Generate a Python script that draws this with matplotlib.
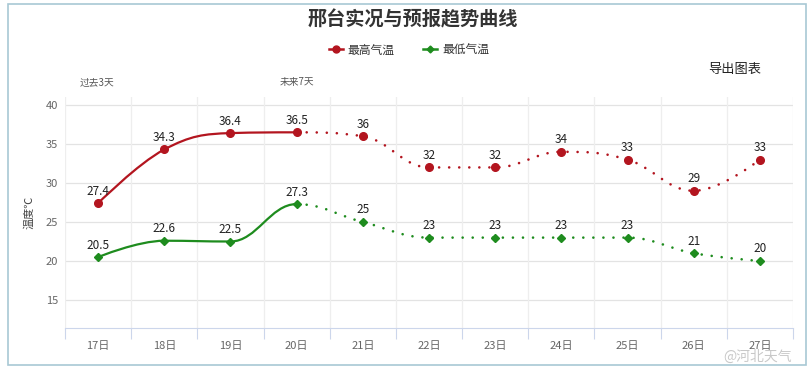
import matplotlib
matplotlib.use("Agg")
import matplotlib.pyplot as plt
from matplotlib.path import Path
from matplotlib.patches import PathPatch, Rectangle
from matplotlib.lines import Line2D

plt.rcParams['font.family'] = ['Noto Sans CJK SC', 'DejaVu Sans']

# ---- data ----
categories = ['17日', '18日', '19日', '20日', '21日', '22日', '23日', '24日', '25日', '26日', '27日']
high_temps = [27.4, 34.3, 36.4, 36.5, 36, 32, 32, 34, 33, 29, 33]
low_temps = [20.5, 22.6, 22.5, 27.3, 25, 23, 23, 23, 23, 21, 20]
y_ticks = [15, 20, 25, 30, 35, 40]
observed_count = 4  # 17-20 solid (observed), rest dotted (forecast)

title = '邢台实况与预报趋势曲线'
series_names = ['最高气温', '最低气温']
red = '#b3151f'
green = '#1e8c1e'


def spline_controls(xs, ys, smoothing=1.5):
    n = len(xs)
    left = [(xs[i], ys[i]) for i in range(n)]
    right = [(xs[i], ys[i]) for i in range(n)]
    denom = smoothing + 1
    for i in range(1, n - 1):
        px, py = xs[i], ys[i]
        lx, ly = xs[i - 1], ys[i - 1]
        nx, ny = xs[i + 1], ys[i + 1]
        lcx = (smoothing * px + lx) / denom
        lcy = (smoothing * py + ly) / denom
        rcx = (smoothing * px + nx) / denom
        rcy = (smoothing * py + ny) / denom
        if rcx != lcx:
            corr = ((rcy - lcy) * (rcx - px)) / (rcx - lcx) + py - rcy
            lcy += corr
            rcy += corr
        if lcy > ly and lcy > py:
            lcy = max(ly, py); rcy = 2 * py - lcy
        elif lcy < ly and lcy < py:
            lcy = min(ly, py); rcy = 2 * py - lcy
        if rcy > ny and rcy > py:
            rcy = max(ny, py); lcy = 2 * py - rcy
        elif rcy < ny and rcy < py:
            rcy = min(ny, py); lcy = 2 * py - rcy
        left[i] = (lcx, lcy)
        right[i] = (rcx, rcy)
    return left, right


def spline_path(xs, ys, start, end, left, right):
    verts = [(xs[start], ys[start])]
    codes = [Path.MOVETO]
    for i in range(start + 1, end + 1):
        verts += [right[i - 1], left[i], (xs[i], ys[i])]
        codes += [Path.CURVE4] * 3
    return Path(verts, codes)


fig = plt.figure(figsize=(8.11, 3.69), dpi=100)
fig.patch.set_facecolor('white')

# outer border
fig.patches.append(Rectangle((8 / 811, 4 / 369), 798 / 811, 361 / 369,
                             transform=fig.transFigure, fill=False,
                             edgecolor='#a8c8d4', linewidth=1.2))

ax = fig.add_axes([65 / 811, 1 - 328 / 369, (793 - 65) / 811, (328 - 97) / 369])
n = len(categories)
xs = list(range(n))
ax.set_xlim(-0.5, n - 0.5)
ax.set_ylim(11.41, 41.03)

# grid
for yt in y_ticks:
    ax.axhline(yt, color='#e3e3e3', linewidth=0.9, zorder=0)
for b in range(n + 1):
    ax.axvline(b - 0.5, color='#eeeeee', linewidth=0.9, zorder=0)

for spine in ['top', 'right', 'left']:
    ax.spines[spine].set_visible(False)
ax.spines['bottom'].set_color('#ccd6eb')

ax.set_yticks(y_ticks)
ax.set_yticklabels([str(v) for v in y_ticks], fontsize=8, color='#666666')
ax.tick_params(axis='y', length=0, pad=5)

ax.set_xticks([b - 0.5 for b in range(n + 1)])
ax.set_xticklabels([''] * (n + 1))
ax.tick_params(axis='x', which='major', length=8, color='#ccd6eb', direction='out')
ax.set_xticks(xs, minor=True)
ax.set_xticklabels(categories, minor=True, fontsize=8, color='#666666')
ax.tick_params(axis='x', which='minor', length=0, pad=9)

ax.set_ylabel('温度℃', fontsize=8, color='#444444', labelpad=8)

for vals, color, marker, ms in [(high_temps, red, 'o', 5.5), (low_temps, green, 'D', 3.6)]:
    left, right = spline_controls(xs, vals)
    p1 = spline_path(xs, vals, 0, observed_count - 1, left, right)
    p2 = spline_path(xs, vals, observed_count - 1, n - 1, left, right)
    ax.add_patch(PathPatch(p1, facecolor='none', edgecolor=color, linewidth=1.6, zorder=3))
    ax.add_patch(PathPatch(p2, facecolor='none', edgecolor=color, linewidth=1.9,
                           linestyle=(0, (0.01, 3.8)), capstyle='round', zorder=3))
    ax.plot(xs, vals, linestyle='none', marker=marker, markersize=ms,
            color=color, zorder=4)
    for x, v in zip(xs, vals):
        ax.annotate(f'{v:g}', (x, v), xytext=(0, 4), textcoords='offset points',
                    ha='center', va='bottom', fontsize=8.5, color='#222222', zorder=5)

# title & legend
fig.text(413 / 811, 1 - 20 / 369, title, ha='center', va='center', fontsize=13.8,
         fontweight='bold', color='#333333')
handles = [Line2D([0], [0], color=red, marker='o', markersize=5, linewidth=1.8),
           Line2D([0], [0], color=green, marker='D', markersize=3.5, linewidth=1.8)]
fig.legend(handles, series_names, loc='center', bbox_to_anchor=(409 / 811, 1 - 50 / 369),
           ncol=2, frameon=False, fontsize=8.5, handlelength=1.2, handletextpad=0.4,
           columnspacing=2.4, labelcolor='#333333')

fig.text(735 / 811, 1 - 69 / 369, '导出图表', ha='center', va='center', fontsize=9.5,
         color='#222222')
fig.text(80 / 811, 1 - 82 / 369, '过去3天', ha='left', va='center', fontsize=7,
         color='#555555')
fig.text(280 / 811, 1 - 82 / 369, '未来7天', ha='left', va='center', fontsize=7,
         color='#555555')
fig.text(758 / 811, 1 - 357 / 369, '@河北天气', ha='center', va='center', fontsize=10,
         color='#bbbbbb', alpha=0.8)

fig.savefig('out.png', dpi=100, facecolor='white')
